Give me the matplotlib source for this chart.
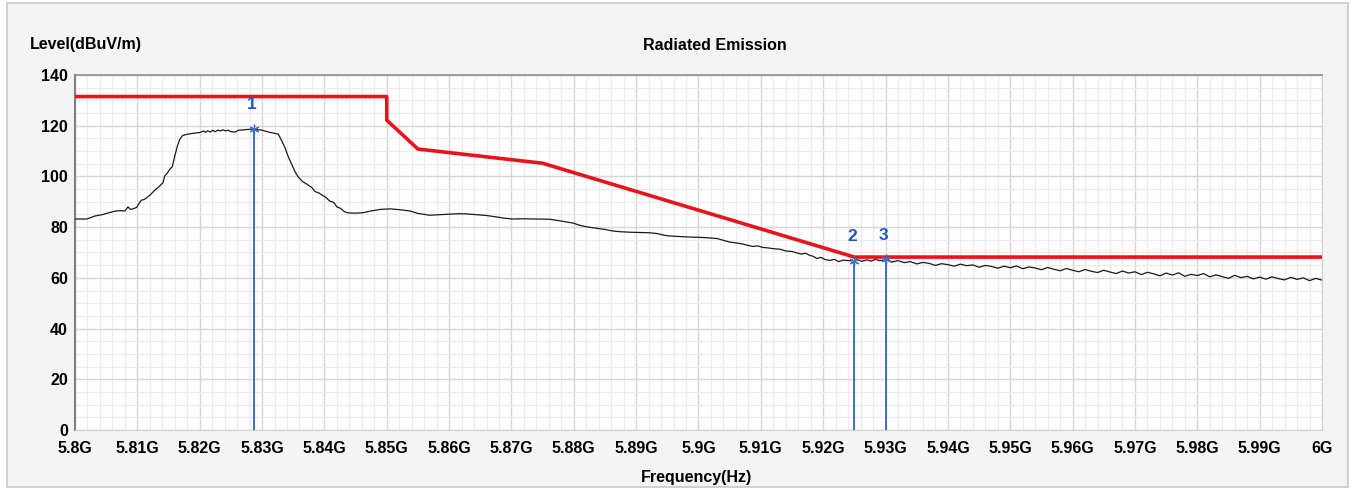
import numpy as np
import matplotlib.pyplot as plt
from matplotlib.patches import Rectangle
from matplotlib.ticker import MultipleLocator

# trace medida (GHz, dBuV/m)
freq = [5.8000, 5.8019, 5.8032, 5.8045, 5.8053, 5.8064, 5.8072, 5.8080, 5.8085, 5.8089,
        5.8093, 5.8099, 5.8103, 5.8107, 5.8111, 5.8115, 5.8121, 5.8128, 5.8135, 5.8141,
        5.8144, 5.8148, 5.8152, 5.8156, 5.8160, 5.8164, 5.8168, 5.8172, 5.8176, 5.8184,
        5.8192, 5.8200, 5.8206, 5.8209, 5.8213, 5.8217, 5.8221, 5.8225, 5.8229, 5.8233,
        5.8237, 5.8241, 5.8245, 5.8251, 5.8257, 5.8262, 5.8268, 5.8275, 5.8281, 5.8287,
        5.8293, 5.8299, 5.8305, 5.8312, 5.8320, 5.8326, 5.8330, 5.8334, 5.8337, 5.8342,
        5.8348, 5.8353, 5.8358, 5.8365, 5.8374, 5.8380, 5.8385, 5.8391, 5.8396, 5.8402,
        5.8409, 5.8413, 5.8417, 5.8420, 5.8426, 5.8431, 5.8436, 5.8441, 5.8450, 5.8462,
        5.8475, 5.8490, 5.8505, 5.8520, 5.8537, 5.8550, 5.8569, 5.8585, 5.8600, 5.8615,
        5.8629, 5.8645, 5.8660, 5.8677, 5.8690, 5.8702, 5.8720, 5.8740, 5.8762, 5.8780,
        5.8799, 5.8810, 5.8821, 5.8835, 5.8850, 5.8862, 5.8874, 5.8890, 5.8905, 5.8920,
        5.8933, 5.8945, 5.8954, 5.8968, 5.8985, 5.9000, 5.9015, 5.9030, 5.9040, 5.9050,
        5.9060, 5.9070, 5.9078, 5.9087, 5.9095, 5.9103, 5.9112, 5.9120, 5.9131, 5.9140,
        5.9150, 5.9158, 5.9165, 5.9172, 5.9178, 5.9184, 5.9190, 5.9196, 5.9203, 5.9211,
        5.9218, 5.9225, 5.9232, 5.9240, 5.9248, 5.9255, 5.9262, 5.9270, 5.9277, 5.9284,
        5.9290, 5.9296, 5.9303,
        5.931, 5.932, 5.933, 5.934, 5.935, 5.936, 5.937, 5.938, 5.939, 5.940,
        5.941, 5.942, 5.943, 5.944, 5.945, 5.946, 5.947, 5.948, 5.949, 5.950,
        5.951, 5.952, 5.953, 5.954, 5.955, 5.956, 5.957, 5.958, 5.959, 5.960,
        5.961, 5.962, 5.963, 5.964, 5.965, 5.966, 5.967, 5.968, 5.969, 5.970,
        5.971, 5.972, 5.973, 5.974, 5.975, 5.976, 5.977, 5.978, 5.979, 5.980,
        5.981, 5.982, 5.983, 5.984, 5.985, 5.986, 5.987, 5.988, 5.989, 5.990,
        5.991, 5.992, 5.993, 5.994, 5.995, 5.996, 5.997, 5.998, 5.999, 6.000]
level = [83.2, 83.2, 84.4, 85.0, 85.6, 86.3, 86.5, 86.4, 88.0, 87.0,
         87.2, 87.8, 89.5, 90.7, 90.9, 91.6, 92.8, 94.6, 96.0, 97.5,
         100.2, 101.3, 102.8, 103.8, 108.0, 111.8, 114.6, 116.0, 116.4, 116.8,
         117.1, 117.3, 117.9, 117.4, 118.0, 117.5, 118.2, 117.6, 118.3, 117.9,
         118.4, 118.0, 118.2, 117.6, 117.5, 118.2, 118.3, 118.5, 118.6, 118.8,
         118.4, 118.3, 117.9, 117.4, 117.0, 116.7, 114.8, 112.8, 111.2, 107.8,
         104.5, 101.8, 99.8, 98.0, 96.6, 95.6, 94.0, 93.5, 92.7, 91.8,
         90.2, 90.0, 89.1, 88.0, 87.4, 86.3, 85.7, 85.6, 85.5, 85.7,
         86.4, 87.0, 87.2, 86.9, 86.4, 85.4, 84.7, 84.9, 85.1, 85.3,
         85.2, 84.9, 84.6, 84.0, 83.5, 83.2, 83.3, 83.2, 83.1, 82.4,
         81.6, 80.7, 80.1, 79.6, 79.1, 78.5, 78.2, 78.0, 77.9, 77.8,
         77.5, 76.8, 76.5, 76.3, 76.1, 76.0, 75.8, 75.5, 74.8, 74.1,
         73.8, 73.4, 72.9, 72.4, 72.6, 72.0, 71.8, 71.5, 71.3, 70.6,
         70.4, 69.8, 69.4, 69.7, 68.9, 68.5, 67.6, 68.1, 67.2, 66.9,
         67.3, 66.4, 67.0, 66.8, 66.7, 67.2, 66.5, 67.1, 66.6, 67.3,
         66.8, 66.9, 67.4,
         66.2, 66.8, 66.0, 66.4, 65.5, 66.1, 65.7, 64.9, 65.6, 65.2,
         64.6, 65.4, 64.8, 65.1, 64.2, 64.9, 64.5, 63.8, 64.6, 64.0,
         64.7, 63.6, 64.3, 63.9, 63.2, 64.1, 63.4, 62.8, 63.7, 63.0,
         62.4, 63.3, 62.6, 62.1, 63.0, 62.3, 61.7, 62.7, 61.9, 62.4,
         61.3, 62.2, 61.6, 60.8, 61.9, 61.1, 62.0, 60.6, 61.4, 60.9,
         61.7, 60.4, 61.2, 60.5, 59.8, 61.0, 60.1, 60.6, 59.6, 60.3,
         59.5, 60.4, 59.7, 59.2, 60.2, 59.4, 60.0, 58.9, 59.8, 59.1]

# linea limite
lim_freq = [5.800, 5.850, 5.850, 5.855, 5.875, 5.925, 6.000]
lim_level = [131.5, 131.5, 122.2, 110.8, 105.2, 68.2, 68.2]

# marcadores
mk_freq = [5.8287, 5.925, 5.930]
mk_level = [118.8, 66.8, 67.3]
mk_label = ['1', '2', '3']

xticks = [5.80 + 0.01 * i for i in range(21)]
xlabels = ['5.8G', '5.81G', '5.82G', '5.83G', '5.84G', '5.85G', '5.86G', '5.87G',
           '5.88G', '5.89G', '5.9G', '5.91G', '5.92G', '5.93G', '5.94G', '5.95G',
           '5.96G', '5.97G', '5.98G', '5.99G', '6G']

plt.rcParams['font.family'] = ['Liberation Sans', 'DejaVu Sans']
W, H = 1357, 490
fig = plt.figure(figsize=(W / 100, H / 100), dpi=100)
fig.patch.set_facecolor('white')
fig.patches.append(Rectangle((7 / W, 3 / H), 1341 / W, 484 / H, transform=fig.transFigure,
                             facecolor='#f4f4f4', edgecolor='#c8c8c8', lw=1.2, zorder=-10))

ax = fig.add_axes([75 / W, 60 / H, 1247 / W, 355 / H])
ax.set_facecolor('white')
ax.set_xlim(5.8, 6.0)
ax.set_ylim(0, 140)
ax.xaxis.set_major_locator(MultipleLocator(0.01))
ax.xaxis.set_minor_locator(MultipleLocator(0.002))
ax.yaxis.set_major_locator(MultipleLocator(20))
ax.yaxis.set_minor_locator(MultipleLocator(5))
ax.set_xticks(xticks)
ax.set_xticklabels(xlabels)
ax.grid(which='major', color='#d6d6d6', lw=1.0)
ax.grid(which='minor', color='#ebebeb', lw=0.9)
ax.set_axisbelow(True)
ax.tick_params(which='both', length=0)
ax.tick_params(axis='x', pad=8, labelsize=11.5)
ax.tick_params(axis='y', pad=5, labelsize=11.5)
for lab in ax.get_xticklabels() + ax.get_yticklabels():
    lab.set_fontweight('bold')
ax.spines['left'].set_color('#808080')
ax.spines['top'].set_color('#909090')
ax.spines['right'].set_color('#d0d0d0')
ax.spines['bottom'].set_color('#d0d0d0')
ax.spines['left'].set_linewidth(1.5)
ax.spines['top'].set_linewidth(1.2)

ax.plot(lim_freq, lim_level, color='#e8141b', lw=2.6, zorder=3)
ax.plot(freq, level, color='#1a1a1a', lw=0.9, zorder=4)

for f, l, t in zip(mk_freq, mk_level, mk_label):
    ax.plot([f, f], [0, l], color='#3f6fc0', lw=1.4, zorder=5)
    ax.plot(f, l, marker=(6, 2, 0), color='#3f6fc0', ms=7, mew=0.9, zorder=6)
    ax.text(f - 0.0004, l + 6.5, t, color='#1f56c4', fontsize=12.5, fontweight='bold',
            ha='center', va='bottom', zorder=6)

fig.text(30 / W, 1 - 45 / H, 'Level(dBuV/m)', fontsize=11.5, fontweight='bold', va='center')
fig.text(715 / W, 1 - 45 / H, 'Radiated Emission', fontsize=11.5, fontweight='bold',
         ha='center', va='center')
fig.text(697 / W, 1 - 477 / H, 'Frequency(Hz)', fontsize=11.5, fontweight='bold',
         ha='center', va='center')

fig.savefig('out.png', dpi=100)
